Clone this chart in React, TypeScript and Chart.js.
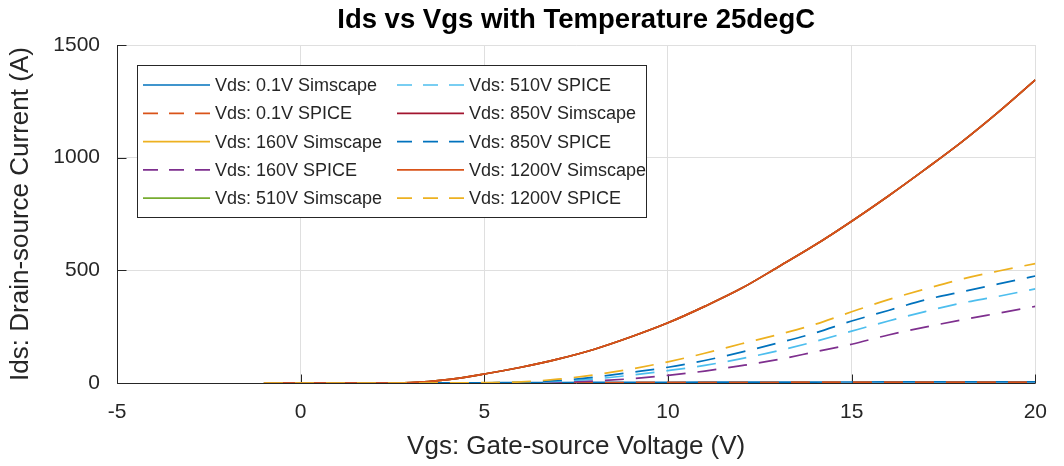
import React, { useEffect, useRef } from 'react';
import { Chart, registerables } from 'chart.js';

Chart.register(...registerables);

// ---- Data ----
const vgs = [-1, 0, 1, 2, 3, 4, 5, 6, 7, 8, 9, 10, 11, 12, 13, 14, 15, 16, 17, 18, 19, 20];

const ids01Simscape = [0, 0, 0, 0, 0, 0.5, 1, 1.5, 2, 2.5, 3, 3.3, 3.6, 3.9, 4.1, 4.3, 4.5, 4.7, 4.8, 5, 5.1, 5.2];
const ids01Spice = [0, 0, 0, 0, 0, 0.4, 0.8, 1.2, 1.6, 2, 2.4, 2.7, 3, 3.2, 3.4, 3.6, 3.8, 3.9, 4, 4.1, 4.2, 4.3];
const ids1200Simscape = [0, 0, 0, 0, 2, 15, 40, 70, 106, 150, 205, 267, 340, 420, 515, 612, 718, 830, 948, 1070, 1203, 1345];
// In saturation the Simscape curves for 160 V / 510 V / 850 V lie under the 1200 V curve
const ids160Simscape = ids1200Simscape;
const ids510Simscape = ids1200Simscape;
const ids850Simscape = ids1200Simscape;
const ids160Spice = [0, 0, 0, 0, 0, 0, 0.3, 1, 4, 9, 19, 34, 53, 77, 104, 138, 172, 213, 248, 280, 310, 340];
const ids510Spice = [0, 0, 0, 0, 0, 0.2, 0.6, 2, 7, 18, 35, 55, 78, 108, 143, 184, 230, 275, 317, 355, 385, 418];
const ids850Spice = [0, 0, 0, 0, 0, 0.3, 0.8, 3, 11, 26, 47, 70, 100, 137, 178, 222, 275, 322, 369, 405, 440, 475];
const ids1200Spice = [0, 0, 0, 0, 0, 0.5, 1.5, 5, 17, 36, 62, 94, 132, 174, 215, 260, 316, 370, 417, 461, 497, 530];

const seriesLabels = [
  'Vds: 0.1V Simscape', 'Vds: 0.1V SPICE',
  'Vds: 160V Simscape', 'Vds: 160V SPICE',
  'Vds: 510V Simscape', 'Vds: 510V SPICE',
  'Vds: 850V Simscape', 'Vds: 850V SPICE',
  'Vds: 1200V Simscape', 'Vds: 1200V SPICE',
];
const seriesValues = [
  ids01Simscape, ids01Spice,
  ids160Simscape, ids160Spice,
  ids510Simscape, ids510Spice,
  ids850Simscape, ids850Spice,
  ids1200Simscape, ids1200Spice,
];
const seriesColors = [
  '#0072BD', '#D95319', '#EDB120', '#7E2F8E', '#77AC30',
  '#4DBEEE', '#A2142F', '#0072BD', '#D95319', '#EDB120',
];
const seriesDashed = [false, true, false, true, false, true, false, true, false, true];

const xTicks = [-5, 0, 5, 10, 15, 20];
const yTicks = [0, 500, 1000, 1500];

const titleText = 'Ids vs Vgs with Temperature 25degC';
const xTitle = 'Vgs: Gate-source Voltage (V)';
const yTitle = 'Ids: Drain-source Current (A)';

const FONT = "'Liberation Sans', Arial, Helvetica, sans-serif";
const AXIS = '#262626';
const GRID = '#dfdfdf';

const matlabPlugin = {
  id: 'matlabLook',
  beforeDatasetsDraw(chart: any) {
    const { ctx, chartArea, scales } = chart;
    const { left, right, top, bottom } = chartArea;
    ctx.save();
    ctx.strokeStyle = AXIS;
    ctx.lineWidth = 1;
    ctx.setLineDash([]);
    ctx.beginPath();
    const lx = Math.round(left) + 0.5;
    const by = Math.round(bottom) + 0.5;
    ctx.moveTo(lx, top);
    ctx.lineTo(lx, by);
    ctx.lineTo(right, by);
    xTicks.forEach((v) => {
      const px = Math.round(scales.x.getPixelForValue(v)) + 0.5;
      ctx.moveTo(px, by);
      ctx.lineTo(px, by - 9);
    });
    yTicks.forEach((v) => {
      const py = Math.round(scales.y.getPixelForValue(v)) + 0.5;
      ctx.moveTo(lx, py);
      ctx.lineTo(lx + 9, py);
    });
    ctx.stroke();
    ctx.restore();
  },
  afterDraw(chart: any) {
    const { ctx, chartArea } = chart;
    const { left, right, top } = chartArea;
    ctx.save();
    // title
    ctx.fillStyle = '#000';
    ctx.font = `bold 27.5px ${FONT}`;
    ctx.textAlign = 'center';
    ctx.textBaseline = 'middle';
    ctx.fillText(titleText, (left + right) / 2, 20);

    // legend
    const bx = left + 20;
    const byTop = top + 20;
    const bw = 509;
    const bh = 152;
    ctx.fillStyle = '#fff';
    ctx.fillRect(bx, byTop, bw, bh);
    ctx.strokeStyle = AXIS;
    ctx.lineWidth = 1;
    ctx.setLineDash([]);
    ctx.strokeRect(Math.round(bx) + 0.5, Math.round(byTop) + 0.5, bw, bh);
    ctx.font = `18px ${FONT}`;
    ctx.textAlign = 'left';
    ctx.textBaseline = 'middle';
    chart.data.datasets.forEach((ds: any, i: number) => {
      const col = Math.floor(i / 5);
      const row = i % 5;
      const x0 = bx + 6 + col * 254;
      const y0 = byTop + 20 + row * 28.3;
      ctx.strokeStyle = ds.borderColor;
      ctx.lineWidth = 1.7;
      ctx.setLineDash(ds.borderDash && ds.borderDash.length ? [15, 11] : []);
      ctx.beginPath();
      ctx.moveTo(x0, y0);
      ctx.lineTo(x0 + 67, y0);
      ctx.stroke();
      ctx.setLineDash([]);
      ctx.fillStyle = AXIS;
      ctx.fillText(ds.label, x0 + 72, y0 + 1);
    });
    ctx.restore();
  },
};

export default function App() {
  const canvasRef = useRef<HTMLCanvasElement | null>(null);

  useEffect(() => {
    document.body.style.margin = '0';
    const canvas = canvasRef.current;
    if (!canvas) return;
    const n = seriesLabels.length;
    const datasets = seriesLabels.map((label, i) => ({
      label,
      data: vgs.map((v, j) => ({ x: v, y: seriesValues[i][j] })),
      borderColor: seriesColors[i],
      backgroundColor: seriesColors[i],
      borderWidth: 1.7,
      borderDash: seriesDashed[i] ? [19, 12] : [],
      pointRadius: 0,
      fill: false,
      cubicInterpolationMode: 'monotone' as const,
      order: n - i,
    }));

    const chart = new Chart(canvas, {
      type: 'line',
      data: { datasets },
      options: {
        animation: false,
        responsive: false,
        maintainAspectRatio: false,
        layout: { padding: { left: 0, top: 45, right: 20, bottom: 0 } },
        plugins: {
          legend: { display: false },
          title: { display: false },
          tooltip: { enabled: false },
        },
        scales: {
          x: {
            type: 'linear',
            min: -5,
            max: 20,
            afterBuildTicks: (s: any) => {
              s.ticks = xTicks.map((v) => ({ value: v }));
            },
            afterFit: (s: any) => {
              s.height = 83;
            },
            grid: { color: GRID, lineWidth: 1, drawTicks: false },
            border: { display: false },
            ticks: {
              color: AXIS,
              font: { family: FONT, size: 21 },
              padding: 17,
              maxRotation: 0,
              callback: (v: any) => String(v),
            },
            title: {
              display: true,
              text: xTitle,
              color: AXIS,
              font: { family: FONT, size: 26 },
              padding: { top: 0, bottom: 4 },
            },
          },
          y: {
            type: 'linear',
            min: 0,
            max: 1500,
            afterBuildTicks: (s: any) => {
              s.ticks = yTicks.map((v) => ({ value: v }));
            },
            afterFit: (s: any) => {
              s.width = 117;
            },
            grid: { color: GRID, lineWidth: 1, drawTicks: false },
            border: { display: false },
            ticks: {
              color: AXIS,
              font: { family: FONT, size: 21 },
              padding: 17,
              callback: (v: any) => String(v),
            },
            title: {
              display: true,
              text: yTitle,
              color: AXIS,
              font: { family: FONT, size: 26 },
              padding: { top: 5, bottom: 0 },
            },
          },
        },
      },
      plugins: [matlabPlugin],
    });
    return () => chart.destroy();
  }, []);

  return (
    <div style={{ width: 1064, height: 466, position: 'relative', background: '#fff' }}>
      <canvas ref={canvasRef} width={1064} height={466} style={{ display: 'block' }} />
    </div>
  );
}
